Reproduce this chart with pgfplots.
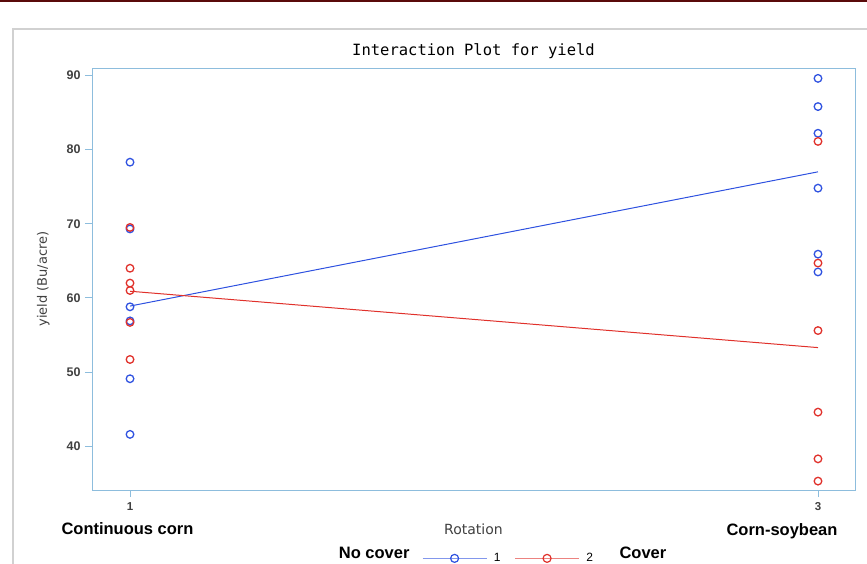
\documentclass[border=0pt]{standalone}
\usepackage{pgfplots}
\pgfplotsset{compat=1.18}
\usepackage{fontspec}
\setmainfont{Liberation Sans}
\newfontfamily\titlefont{DejaVu Sans Mono}
\newfontfamily\labelfont{DejaVu Sans}

\definecolor{sasblue}{HTML}{2F52E0}
\definecolor{sasred}{HTML}{E0312B}
\definecolor{frameblue}{HTML}{8DBDDD}
\definecolor{ticktext}{HTML}{404040}
\definecolor{topbar}{HTML}{5A0A0A}

\begin{document}
\begin{tikzpicture}[x=1pt,y=1pt]
  \useasboundingbox (0,0) rectangle (867,563);
  \clip (0,0) rectangle (867,563);
  % page decorations
  \fill[topbar] (0,561) rectangle (867,563);
  \draw[black!18, line width=1.2pt] (13,-5) -- (13,534) -- (880,534);

  \begin{axis}[
      at={(92pt,73pt)}, anchor=south west,
      width=763pt, height=422pt, scale only axis,
      xmin=0.8895, xmax=3.1076,
      ymin=34.1, ymax=91.0,
      xtick={1,3}, ytick={40,50,...,90},
      axis line style={frameblue, line width=0.9pt},
      tick style={frameblue, line width=0.9pt},
      tick align=outside, major tick length=7pt,
      xtick pos=bottom, ytick pos=left,
      /pgf/number format/assume math mode=true,
      yticklabel style={font=\fontsize{12.5}{14}\selectfont\bfseries, text=ticktext, xshift=-1pt},
      xticklabel style={font=\fontsize{11.5}{13}\selectfont\bfseries, text=ticktext, yshift=-2pt},
      title={Interaction Plot for yield},
      title style={font=\titlefont\fontsize{15.5}{17}\selectfont, yshift=0pt},
      ylabel={yield (Bu/acre)},
      ylabel style={font=\labelfont\fontsize{13}{15}\selectfont, text=ticktext, yshift=10pt},
      xlabel={Rotation},
      xlabel style={font=\labelfont\fontsize{14}{16}\selectfont, text=ticktext, yshift=-6pt},
      legend style={draw=none, fill=none, inner sep=0pt,
        at={(axis description cs:0.4325,-0.162)}, anchor=west,
        font=\fontsize{12}{14}\selectfont,
        /tikz/every odd column/.append style={column sep=5pt},
        /tikz/every even column/.append style={column sep=12pt}},
      legend columns=2,
      legend image code/.code={%
        \draw[mark repeat=2, mark phase=2, #1] plot coordinates {(0pt,0pt) (32pt,0pt) (64pt,0pt)};},
      every axis plot/.append style={line width=1pt},
    ]
    % No cover (1), Cover (2)
    \addplot[sasblue, only marks, mark=o, mark size=3.8pt, mark options={line width=1.3pt}, forget plot]
      coordinates {(1,78.3) (1,69.3) (1,58.8) (1,56.9) (1,49.1) (1,41.6)
                   (3,89.6) (3,85.8) (3,82.2) (3,74.8) (3,65.9) (3,63.5)};
    \addplot[sasred, only marks, mark=o, mark size=3.8pt, mark options={line width=1.3pt}, forget plot]
      coordinates {(1,69.5) (1,64.0) (1,62.0) (1,61.0) (1,56.7) (1,51.7)
                   (3,81.1) (3,64.7) (3,55.6) (3,44.6) (3,38.3) (3,35.3)};
    \addplot[sasblue, no marks, forget plot] coordinates {(1,58.9) (3,77.0)};
    \addplot[sasred, no marks, forget plot] coordinates {(1,60.9) (3,53.3)};
    \addlegendimage{sasblue!60, line width=0.8pt, mark=o, mark size=4pt, mark options={line width=1.2pt, sasblue}}
    \addlegendentry{1}
    \addlegendimage{sasred!60, line width=0.8pt, mark=o, mark size=4pt, mark options={line width=1.2pt, sasred}}
    \addlegendentry{2}
  \end{axis}

  \node[font=\fontsize{16.5}{18}\selectfont\bfseries] at (127.5,34) {Continuous corn};
  \node[font=\fontsize{16.5}{18}\selectfont\bfseries] at (782,32) {Corn-soybean};
  \node[font=\fontsize{16.5}{18}\selectfont\bfseries, anchor=base east] at (413,5) {No cover};
  \node[font=\fontsize{16.5}{18}\selectfont\bfseries, anchor=base west] at (616,5) {Cover};
\end{tikzpicture}
\end{document}
